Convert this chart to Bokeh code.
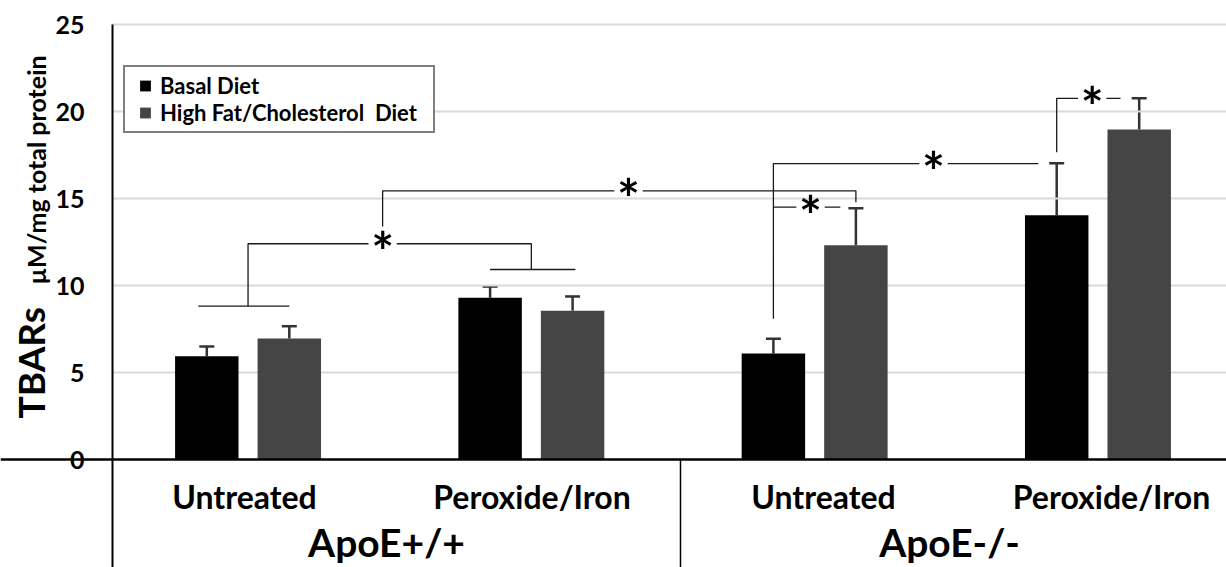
from math import pi
from bokeh.plotting import figure
from bokeh.models import (ColumnDataSource, Range1d, FixedTicker, Whisker, TeeHead,
                          Legend, LegendItem, LinearAxis, Span)
from bokeh.core.properties import value
from bokeh.embed import file_html
from bokeh.resources import INLINE

# ---------------- data ----------------
treatments = ["Untreated", "Peroxide/Iron", "Untreated", "Peroxide/Iron"]
genotypes = ["ApoE+/+", "ApoE-/-"]
series_names = ["Basal Diet", "High Fat/Cholesterol  Diet"]
basal = [5.94, 9.29, 6.09, 14.04]
basal_err = [0.55, 0.65, 0.85, 2.99]
hfd = [6.95, 8.55, 12.32, 18.97]
hfd_err = [0.71, 0.82, 2.12, 1.79]
y_ticks = [0, 5, 10, 15, 20, 25]
y_label_main = "TBARs"
y_label_unit = "µM/mg total protein"
sig_mark = "*"
# significance bracket levels (TBARs units)
wt_under = [8.81, 10.92]
wt_top = 12.4
wt_ko_levels = [13.39, 15.44, 14.79]
ko_basal_levels = [8.09, 17.01]
ko_untreated_level = 14.5
ko_perox_levels = [17.66, 20.76]

# ---------------- layout ----------------
FONT = "Lato"
BLACK = "#000000"
GREY = "#454545"
W, H = 1226, 567
PXX = 283.3          # px per category unit
PXY = 17.4           # px per TBARs unit
X_REF_PX, X_REF = 672.5, 2.0
Y0_PX = 459

def xd(px):
    return X_REF + (px - X_REF_PX) / PXX

def yd(py):
    return (Y0_PX - py) / PXY

x_min, x_max = xd(0), xd(W)
y_min, y_max = yd(H), yd(0)
axis_x = xd(112)

off = 0.1456
bw = 0.224
n = len(treatments)
cx = [i + 0.5 for i in range(n)]
bx = [c - off for c in cx]
hx = [c + off for c in cx]

p = figure(width=W, height=H, output_backend="svg", toolbar_location=None,
           x_range=Range1d(x_min, x_max), y_range=Range1d(y_min, y_max),
           x_axis_location=None, y_axis_location=None,
           min_border_left=0, min_border_top=0, min_border_right=0, min_border_bottom=0)
p.outline_line_color = None
p.background_fill_color = "white"
p.border_fill_color = "white"
p.xgrid.visible = False
p.ygrid.visible = False

# horizontal gridlines (from the axis to the right edge)
grid_y = y_ticks[1:]
p.segment(x0=[axis_x] * len(grid_y), y0=grid_y, x1=[x_max] * len(grid_y), y1=grid_y,
          line_color="#d9d9d9", line_width=2)

# y axis drawn at the left edge of the bar area
ax = LinearAxis(fixed_location=axis_x, bounds=(y_min, y_ticks[-1]))
ax.ticker = FixedTicker(ticks=y_ticks)
ax.axis_line_color = BLACK
ax.axis_line_width = 2
ax.major_tick_line_color = None
ax.minor_tick_line_color = None
ax.major_tick_out = 0
ax.major_tick_in = 0
ax.major_label_standoff = 28
ax.major_label_text_font = FONT
ax.major_label_text_font_style = "bold"
ax.major_label_text_font_size = "25px"
ax.major_label_text_color = BLACK
p.add_layout(ax, "left")

# bars
src_b = ColumnDataSource(dict(x=bx, top=basal, up=[v + e for v, e in zip(basal, basal_err)]))
src_h = ColumnDataSource(dict(x=hx, top=hfd, up=[v + e for v, e in zip(hfd, hfd_err)]))
p.vbar(x="x", top="top", width=bw, source=src_b, fill_color=BLACK, line_color=None)
p.vbar(x="x", top="top", width=bw, source=src_h, fill_color=GREY, line_color=None)

for s in (src_b, src_h):
    p.add_layout(Whisker(base="x", lower="top", upper="up", source=s,
                         line_color="#333333", line_width=2.5,
                         upper_head=TeeHead(size=15, line_color="#333333", line_width=2.5),
                         lower_head=None))

# baseline and group separator
p.add_layout(Span(location=0, dimension="width", line_color=BLACK, line_width=2.5))
sep_x = xd(680)
p.segment(x0=[sep_x], y0=[0], x1=[sep_x], y1=[y_min], line_color=BLACK, line_width=1.5)

# significance brackets
g = 0.05
a1 = (cx[0] + cx[1]) / 2 - 0.025
a2 = xd(628)
a3 = xd(933)
a4 = xd(810)
a5 = xd(1091.7)
xs = [
    [bx[0] - 0.03, hx[0]],
    [bx[1], hx[1] + 0.01],
    [cx[0], cx[0], a1 - g],
    [a1 + g, cx[1], cx[1]],
    [a1, a1, a2 - g],
    [a2 + g, hx[2], hx[2]],
    [bx[2], bx[2], a3 - g],
    [a3 + g, bx[3] - 0.065],
    [bx[2], a4 - g],
    [a4 + g, hx[2] - 0.055],
    [bx[3], bx[3], a5 - g],
    [a5 + g, hx[3] - 0.066],
]
ys = [
    [wt_under[0], wt_under[0]],
    [wt_under[1], wt_under[1]],
    [wt_under[0], wt_top, wt_top],
    [wt_top, wt_top, wt_under[1]],
    [wt_ko_levels[0], wt_ko_levels[1], wt_ko_levels[1]],
    [wt_ko_levels[1], wt_ko_levels[1], wt_ko_levels[2]],
    [ko_basal_levels[0], ko_basal_levels[1], ko_basal_levels[1]],
    [ko_basal_levels[1], ko_basal_levels[1]],
    [ko_untreated_level, ko_untreated_level],
    [ko_untreated_level, ko_untreated_level],
    [ko_perox_levels[0], ko_perox_levels[1], ko_perox_levels[1]],
    [ko_perox_levels[1], ko_perox_levels[1]],
]
p.multi_line(xs=xs, ys=ys, line_color="#1a1a1a", line_width=1.3)

ast_x = [a1, a2, a3, a4, a5]
ast_y = [wt_top, wt_ko_levels[1], ko_basal_levels[1], ko_untreated_level, ko_perox_levels[1]]
p.text(x=ast_x, y=ast_y, text=[sig_mark] * len(ast_x), text_font=value(FONT),
       text_font_style="bold", text_font_size="54px", text_align="center",
       text_baseline="middle", y_offset=7, text_color=BLACK)

# category labels
lab_x = [xd(244), xd(531.5), xd(823), xd(1111)]
p.text(x=lab_x, y=[yd(496)] * n, text=treatments, text_font=value(FONT), text_font_style="bold",
       text_font_size="32px", text_align="center", text_baseline="middle", text_color=BLACK)
p.text(x=[xd(386), xd(949)], y=[yd(541)] * 2, text=genotypes,
       text_font=value(FONT), text_font_style="bold", text_font_size="39px",
       text_align="center", text_baseline="middle", text_color=BLACK)

# y axis title (two sizes, aligned on a common baseline)
p.text(x=[xd(30)], y=[yd(418)], text=[y_label_main], angle=pi / 2,
       text_font=value(FONT), text_font_style="bold", text_font_size="37px",
       text_align="left", text_baseline="middle", text_color=BLACK)
p.text(x=[xd(35)], y=[yd(284)], text=[y_label_unit], angle=pi / 2,
       text_font=value(FONT), text_font_style="bold", text_font_size="25px",
       text_align="left", text_baseline="middle", text_color=BLACK)

# legend (square swatches)
lb = p.scatter(x="x", y="top", source=src_b, marker="square", size=0,
               fill_color=BLACK, line_color=None)
lh = p.scatter(x="x", y="top", source=src_h, marker="square", size=0,
               fill_color=GREY, line_color=None)
legend = Legend(items=[LegendItem(label=series_names[0], renderers=[lb]),
                       LegendItem(label=series_names[1], renderers=[lh])],
                location=(123, H - 133), orientation="vertical")
legend.label_text_font = FONT
legend.label_text_font_style = "bold"
legend.label_text_font_size = "22px"
legend.label_text_color = BLACK
legend.glyph_width = 30
legend.glyph_height = 27
legend.label_height = 27
legend.label_width = 268
legend.label_standoff = 0
legend.spacing = 0
legend.padding = 5
legend.margin = 0
legend.border_line_color = BLACK
legend.border_line_width = 2
legend.background_fill_alpha = 1.0
p.add_layout(legend)

open("out.html", "w").write(file_html(p, INLINE))
